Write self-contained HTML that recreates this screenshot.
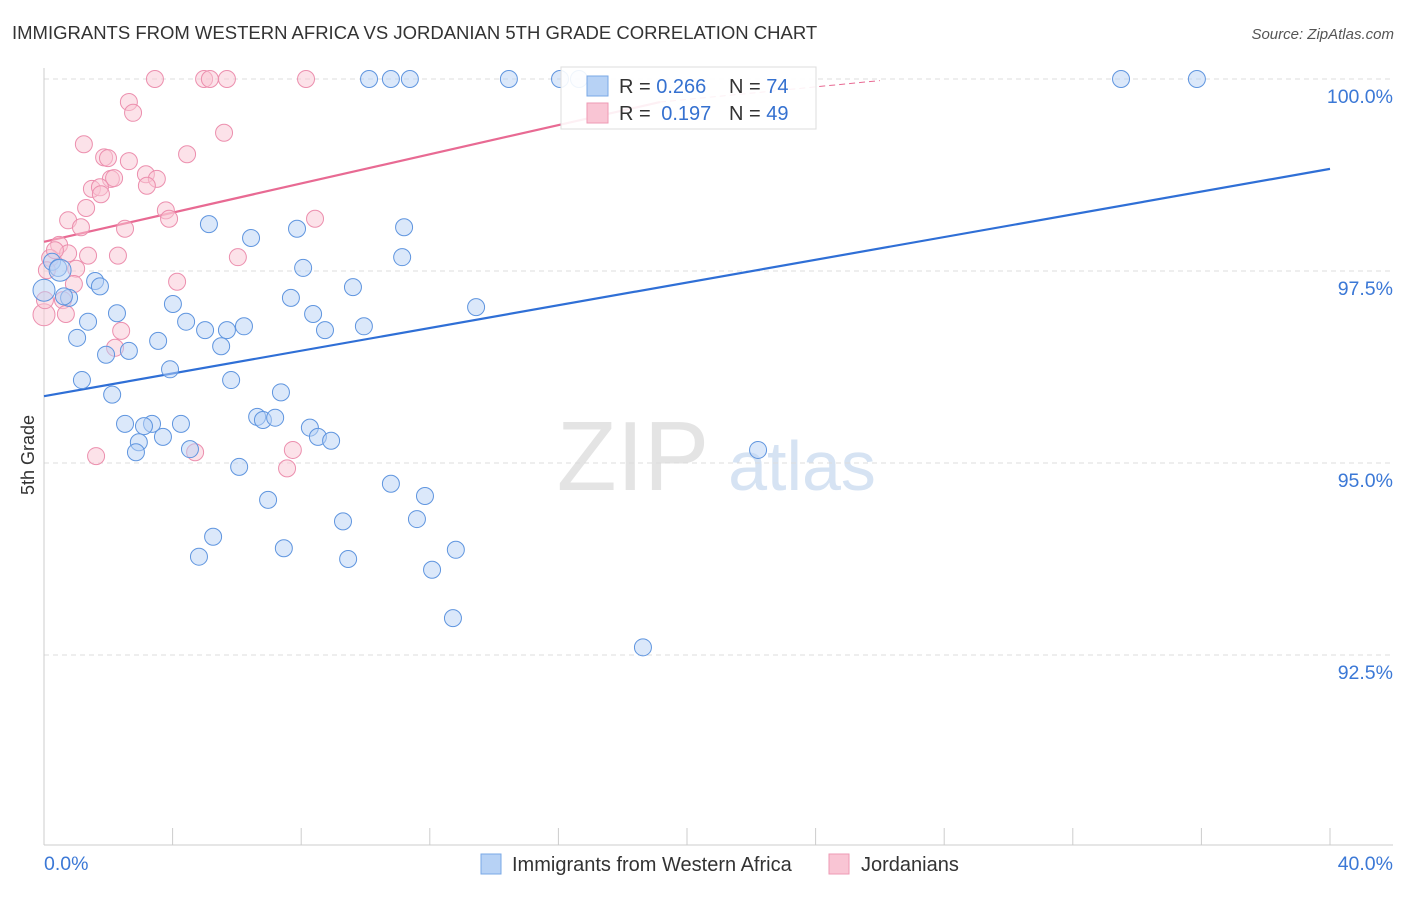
<!DOCTYPE html>
<html><head><meta charset="utf-8">
<style>
body{margin:0;background:#fff;font-family:"Liberation Sans",sans-serif;}
svg text{font-family:"Liberation Sans",sans-serif;}
</style></head>
<body>
<svg id="chart" width="1406" height="892" viewBox="0 0 1406 892" xmlns="http://www.w3.org/2000/svg">
<text x="12" y="39" font-size="18.5" fill="#333">IMMIGRANTS FROM WESTERN AFRICA VS JORDANIAN 5TH GRADE CORRELATION CHART</text>
<text x="1394" y="39" font-size="15" fill="#555" font-style="italic" text-anchor="end">Source: ZipAtlas.com</text>
<text x="34" y="455" font-size="18" fill="#333" transform="rotate(-90 34 455)" text-anchor="middle">5th Grade</text>
<g>
<text x="633" y="490" font-size="98" fill="#e4e4e4" font-family="Liberation Serif" text-anchor="middle">ZIP</text>
<text x="802" y="490" font-size="70" fill="#d6e3f3" text-anchor="middle">atlas</text>
</g>
<g id="grid"></g>
<g id="axes"></g>
<g id="lines"></g>
<g id="pts"></g>
<g>
<rect x="561" y="67" width="255" height="62" fill="#fff" fill-opacity="0.9" stroke="#ddd"/>
<rect x="587" y="76" width="21" height="20" fill="#b7d2f5" stroke="#7aa8e6"/>
<text x="619" y="93" font-size="20" fill="#333">R = <tspan fill="#3571d0">0.266</tspan></text>
<text x="729" y="93" font-size="20" fill="#333">N = <tspan fill="#3571d0">74</tspan></text>
<rect x="587" y="103" width="21" height="20" fill="#f9c5d4" stroke="#ee9ab4"/>
<text x="619" y="120" font-size="20" fill="#333">R = <tspan fill="#3571d0" dx="5">0.197</tspan></text>
<text x="729" y="120" font-size="20" fill="#333">N = <tspan fill="#3571d0">49</tspan></text>
</g>
<g>
<rect x="481" y="854" width="20" height="20" fill="#b7d2f5" stroke="#7aa8e6"/>
<text x="512" y="871" font-size="20" fill="#333">Immigrants from Western Africa</text>
<rect x="829" y="854" width="20" height="20" fill="#f9c5d4" stroke="#ee9ab4"/>
<text x="861" y="871" font-size="20" fill="#333">Jordanians</text>
</g>
</svg>
<script>
const blueX=[10.11,10.79,11.38,14.46,16.05,16.64,33.5,35.86,5.13,6.44,7.87,11.2,8.06,11.14,0.25,0.44,1.59,1.74,0.78,0.62,7.68,9.61,13.44,2.27,4.01,4.42,1.37,8.37,5.01,5.69,6.22,8.74,9.95,1.03,3.55,5.51,1.93,2.64,3.92,1.18,5.82,2.12,7.37,2.52,3.36,3.11,4.26,3.7,2.95,2.86,4.54,6.63,6.81,7.19,8.27,8.52,8.93,22.21,6.07,10.79,11.85,6.97,9.3,11.6,5.26,7.46,12.81,4.82,9.46,12.07,12.72,18.63,0,0.5];
const blueY=[100,100,100,100,100,100,100,100,98.11,97.93,98.05,98.07,97.54,97.68,97.62,97.54,97.37,97.3,97.15,97.17,97.15,97.29,97.03,96.95,97.07,96.84,96.84,96.94,96.73,96.73,96.78,96.73,96.78,96.63,96.59,96.52,96.41,96.46,96.22,96.08,96.08,95.89,95.92,95.51,95.51,95.48,95.51,95.34,95.27,95.14,95.18,95.6,95.56,95.59,95.46,95.34,95.29,95.17,94.95,94.73,94.57,94.52,94.24,94.27,94.04,93.89,93.87,93.78,93.75,93.61,92.98,92.6,97.25,97.51];
const pinkX=[3.45,4.98,5.16,5.69,8.15,2.64,2.77,5.6,1.24,1.87,1.99,4.45,2.64,3.17,2.08,2.18,3.51,3.2,1.49,1.74,1.77,1.31,3.79,3.89,0.75,8.43,1.15,2.52,0.47,0.75,1.37,2.3,6.03,0.19,1.0,4.14,0.93,0.59,0.68,2.4,2.21,0,1.62,4.7,7.74,7.56,0.03,0.34,0.09];
const pinkY=[100,100,100,100,100,99.7,99.56,99.3,99.15,98.98,98.97,99.02,98.93,98.76,98.7,98.71,98.7,98.61,98.57,98.59,98.5,98.32,98.29,98.18,98.16,98.18,98.07,98.05,97.84,97.73,97.7,97.7,97.68,97.67,97.53,97.36,97.33,97.12,96.94,96.72,96.5,96.93,95.09,95.14,95.17,94.93,97.12,97.77,97.51];
const blueBig=[72,73];
const pinkBig=[41];
const blueTrend=[95.87,98.83];
const pinkTrend=[97.88,99.7];
const yTicks=[100,97.5,95,92.5];
const yTickLabels=["100.0%","97.5%","95.0%","92.5%"];
const xTicks=[0,4,8,12,16,20,24,28,32,36,40];

const NS="http://www.w3.org/2000/svg";
const sx=v=>44+v*32.15;
const sy=v=>79+(100-v)*76.8;
function mk(tag,attrs,parent){const e=document.createElementNS(NS,tag);for(const k in attrs)e.setAttribute(k,attrs[k]);document.getElementById(parent).appendChild(e);return e;}

yTicks.forEach((t,i)=>{
  const g=mk('line',{x1:44,x2:1393,y1:sy(t),y2:sy(t),stroke:'#ddd','stroke-dasharray':'5,4'},'grid');
  
  
  const tx=mk('text',{x:1393,y:sy(t)+24,'font-size':19.5,fill:'#3b78d6','text-anchor':'end'},'axes');
  tx.textContent=yTickLabels[i];
  
  
});
const ax=mk('line',{x1:44,x2:44,y1:68,y2:845,stroke:'#ccc'},'axes');


const bx=mk('line',{x1:44,x2:1393,y1:845,y2:845,stroke:'#ccc'},'axes');


xTicks.forEach(t=>{
  const l=mk('line',{x1:sx(t),x2:sx(t),y1:828,y2:845,stroke:'#ccc'},'axes');
  
  
});
const xl0=mk('text',{x:44,y:870,'font-size':19.5,fill:'#3b78d6'},'axes');xl0.textContent='0.0%';


const xl1=mk('text',{x:1393,y:870,'font-size':19.5,fill:'#3b78d6','text-anchor':'end'},'axes');xl1.textContent='40.0%';



function dots(X,Y,big,fill,stroke,name){
  X.forEach((x,i)=>{
    const c=mk('circle',{cx:sx(x),cy:sy(Y[i]),r:big.includes(i)?11:8.5,fill:fill,'fill-opacity':0.5,stroke:stroke,'stroke-width':1},'pts');
    
    
  });
}
dots(pinkX,pinkY,pinkBig,'#f9c5d4','#ec8fae','jordanian-point');
dots(blueX,blueY,blueBig,'#b7d2f5','#5f95df','western-africa-point');

const bl=mk('line',{x1:sx(0),y1:sy(blueTrend[0]),x2:sx(40),y2:sy(blueTrend[1]),stroke:'#2f6fd6','stroke-width':2.2},'lines');


const slope=(pinkTrend[1]-pinkTrend[0])/((660-44)/32.15);
const pl=mk('line',{x1:sx(0),y1:sy(pinkTrend[0]),x2:sx(19.16),y2:sy(pinkTrend[1]),stroke:'#e86a93','stroke-width':2.2},'lines');


const xe=26;
const pd=mk('line',{x1:sx(19.16),y1:sy(pinkTrend[1]),x2:sx(xe),y2:sy(Math.min(100,pinkTrend[0]+slope*xe*0.85)),stroke:'#e86a93','stroke-width':1,'stroke-dasharray':'6,4'},'lines');


</script>
</body></html>
